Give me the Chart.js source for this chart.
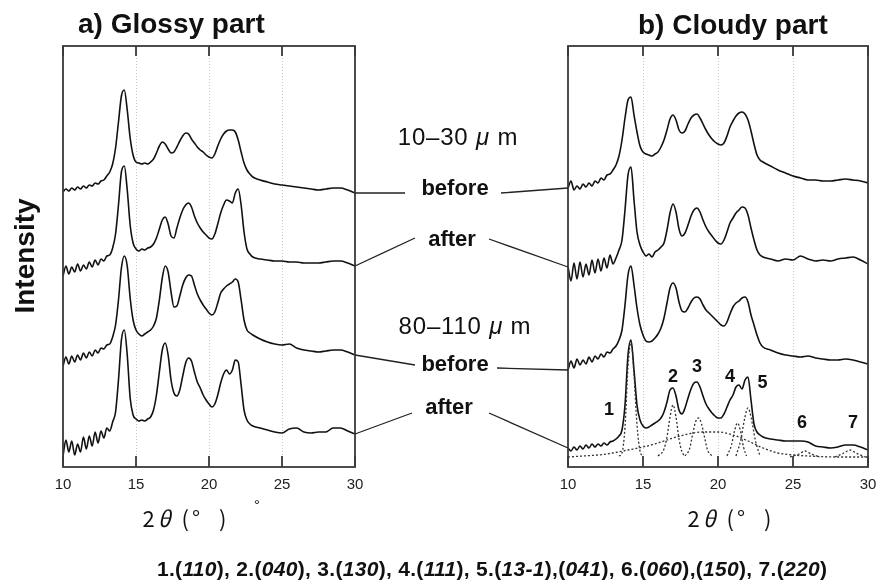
<!DOCTYPE html>
<html lang="en">
<head>
<meta charset="UTF-8">
<title>XRD glossy / cloudy</title>
<style>
    body {
        margin: 0;
        background: #fff;
        overflow: hidden;
    }
    #fig {
        position: relative;
        width: 876px;
        height: 586px;
        overflow: hidden;
        font-family: 'Liberation Sans', Arial, sans-serif;
        color: #111;
    }
    #fig canvas, #fig svg {
        position: absolute;
        top: 0;
    }
    .t {
        position: absolute;
        white-space: nowrap;
        line-height: 1;
    }
    .title { font-size: 28px; font-weight: bold; }
    .tag { font-size: 22px; font-weight: bold; transform: translateX(-50%); }
    .size { font-size: 24px; transform: translateX(-50%); letter-spacing: 0.8px; }
    .axt { font-size: 22px; font-family: 'Noto Sans CJK JP', 'DejaVu Sans', sans-serif; transform: translateX(-50%); letter-spacing: 3px; }
    .num { font-size: 18px; font-weight: bold; transform: translateX(-50%); }
</style>
</head>
<body>
<div id="fig">
    <canvas id="glossy" width="440" height="500" style="left:0"></canvas>
    <canvas id="cloudy" width="456" height="500" style="left:440px"></canvas>
    <svg id="leaders" width="876" height="586" style="left:0"></svg>

    <div class="t title" style="left:78px; top:10px">a) Glossy part</div>
    <div class="t title" style="left:638px; top:11px">b) Cloudy part</div>
    <div class="t title" style="left:25px; top:256px; transform:translate(-50%,-50%) rotate(-90deg)">Intensity</div>

    <div class="t size" style="left:458px; top:125px">10–30 <i>μ</i> m</div>
    <div class="t tag" style="left:455px; top:177px">before</div>
    <div class="t tag" style="left:452px; top:228px">after</div>
    <div class="t size" style="left:465px; top:314px">80–110 <i>μ</i> m</div>
    <div class="t tag" style="left:455px; top:353px">before</div>
    <div class="t tag" style="left:449px; top:396px">after</div>

    <div class="t axt" style="left:186px; top:506px">2<i>θ</i> (°&nbsp;&nbsp;)</div>
    <div class="t" style="left:254px; top:497px; font-size:15px">°</div>
    <div class="t axt" style="left:731px; top:506px">2<i>θ</i> (°&nbsp;&nbsp;)</div>

    <div class="t" style="left:157px; top:558px; font-size:21px; font-weight:bold; letter-spacing:0.3px">1.(<i>110</i>), 2.(<i>040</i>), 3.(<i>130</i>), 4.(<i>111</i>), 5.(<i>13-1</i>),(<i>041</i>), 6.(<i>060</i>),(<i>150</i>), 7.(<i>220</i>)</div>
</div>

<script src="https://cdn.jsdelivr.net/npm/chart.js"></script>
<script>
// 2-theta positions (deg) shared by all measured patterns
const twoTheta = [10.0,10.2,10.4,10.6,10.8,11.0,11.2,11.4,11.6,11.8,12.0,12.2,12.4,12.6,12.8,13.0,13.2,13.4,
    13.6,13.8,14.0,14.2,14.4,14.6,14.8,15.0,15.2,15.4,15.6,15.8,16.0,16.2,16.4,16.6,16.8,17.0,17.2,17.4,17.6,17.8,
    18.0,18.2,18.4,18.6,18.8,19.0,19.2,19.4,19.6,19.8,20.0,20.2,20.4,20.6,20.8,21.0,21.2,21.4,21.6,21.8,
    22.0,22.2,22.4,22.6,22.8,23.0,23.5,24.0,24.5,25.0,25.5,26.0,26.5,27.0,27.5,28.0,28.5,29.0,29.5,30.0];

// intensities (arb. units, already offset for stacking)
// a) glossy part
const glossyBefore10 = [275,278,276,279,277,280,278,281,279,282, 281,284,283,286,287,291,295,303,319,345,
    371,377,357,329,312,305,304,303,304,303, 305,308,314,321,325,323,318,314,315,320,
    326,331,334,333,328,324,320,317,315,312, 310,309,313,321,328,333,336,337,337,335,
    327,315,304,297,293,290,287,285,283,282, 281,280,279,278,277,278,279,279,277,274];
const glossyAfter10 = [191,201,193,200,195,203,196,202,198,205, 200,207,202,208,206,211,212,219,233,262,
    295,301,277,242,224,218,216,218,217,219, 220,223,229,238,247,250,243,231,229,239,
    249,257,262,264,260,251,244,239,235,232, 229,228,233,243,254,262,267,266,264,274,
    278,262,235,218,213,210,208,207,206,206, 205,205,204,204,204,205,206,206,204,201];
const glossyBefore80 = [101,110,103,111,105,112,107,114,109,115, 111,117,114,119,118,122,123,130,142,167,
    199,211,201,169,147,137,133,131,133,135, 137,141,149,167,189,201,195,175,160,161,
    171,182,189,192,191,182,173,167,162,158, 154,152,155,164,174,178,181,183,185,188,
    185,167,147,137,134,132,128,125,123,122, 123,119,117,116,115,116,117,117,115,112];
const glossyAfter80 = [11,27,15,26,12,23,15,30,18,31, 21,35,24,36,29,39,36,45,55,87,
    127,137,112,69,52,48,46,47,46,48, 50,57,72,95,117,124,112,87,74,71,
    77,91,104,109,106,95,85,79,72,67, 63,60,63,72,84,93,97,93,97,107,
    105,82,57,47,43,41,39,37,35,34, 38,39,35,34,35,35,39,39,36,33];

// b) cloudy part
const cloudyBefore10 = [279,286,277,281,278,283,280,284,281,286, 284,289,287,292,293,297,302,311,327,349,
    367,370,352,335,321,315,313,312,311,313, 315,320,327,337,348,352,347,337,334,336,
    343,349,352,353,349,343,337,332,328,325, 323,322,324,331,340,346,351,354,355,353,
    347,336,323,312,307,305,301,297,294,291, 289,287,287,286,286,287,288,287,286,284];
const cloudyAfter10 = [200,186,204,188,205,190,203,192,207,194, 208,196,209,199,212,203,209,217,227,257,
    292,300,267,235,222,215,211,213,210,215, 217,220,224,237,254,263,255,238,231,234,
    242,251,257,259,255,247,240,235,231,227, 224,223,227,235,244,249,254,257,260,259,
    252,239,227,217,212,210,208,206,208,207, 211,208,206,207,206,208,209,210,207,203];
const cloudyBefore80 = [97,106,99,108,102,107,103,110,105,111, 108,113,110,115,114,118,121,127,137,162,
    192,201,182,159,142,132,126,125,126,129, 133,139,149,164,179,184,179,165,156,155,
    159,165,169,170,168,162,157,154,151,148, 145,142,141,145,153,160,164,166,169,170,
    165,152,142,132,124,120,117,114,112,111, 110,111,109,108,107,107,108,107,105,103];
const cloudyAfter80 = [19,16,20,17,21,18,22,19,23,20, 23,21,24,22,25,26,28,31,37,62,
    112,127,97,62,47,41,39,40,42,44, 46,49,55,65,77,79,71,57,53,59,
    69,78,84,85,80,71,63,58,54,51, 49,49,53,60,67,72,80,82,78,87,
    90,67,43,35,32,30,28,27,26,26, 26,25,21,20,19,20,22,22,20,17];

// fitted components of the bottom cloudy pattern, [2theta, intensity]
const fit1 = [[13.4,11],[13.6,14],[13.8,40],[14.0,100],[14.2,125],[14.4,92],[14.6,42],[14.8,16],[15.0,11]];
const fit2 = [[16.0,11],[16.4,18],[16.6,30],[16.8,50],[17.0,62],[17.2,50],[17.4,28],[17.6,15],[17.8,11]];
const fit3 = [[17.8,11],[18.1,18],[18.3,32],[18.5,45],[18.7,49],[18.9,43],[19.1,30],[19.3,17],[19.6,11]];
const fit4 = [[20.6,11],[20.9,22],[21.1,36],[21.3,44],[21.5,36],[21.7,20],[21.9,11]];
const fit5 = [[21.2,11],[21.5,26],[21.8,50],[22.0,59],[22.2,50],[22.5,26],[22.8,11]];
const fit6 = [[24.8,10],[25.4,13],[25.8,16],[26.2,13],[26.8,10]];
const fit7 = [[27.8,10],[28.4,14],[28.8,17],[29.2,14],[29.8,10]];
const amorphous = [[10,10],[11,11],[12,12],[13,14],[14,17],[15,20],[16,24],[17,29],[18,33],[19,35],[20,35],
    [21,32],[22,26],[23,19],[24,14],[25,12],[26,11],[28,10],[30,10]];

// peak number labels: text, 2theta, height of label baseline
const peakNames = ['1','2','3','4','5','6','7'];
const peakLabelX = [12.73, 17.0, 18.6, 20.8, 22.97, 25.6, 29.0];
const peakLabelY = [52, 85, 95, 85, 79, 39, 39];

const X_TICKS = [10, 15, 20, 25, 30];

function solid(values) {
    return {
        data: twoTheta.map((x, i) => ({ x: x, y: values[i] })),
        borderColor: '#111',
        borderWidth: 1.6,
        pointRadius: 0,
        cubicInterpolationMode: 'monotone'
    };
}

function dotted(pairs) {
    return {
        data: pairs.map(p => ({ x: p[0], y: p[1] })),
        borderColor: '#333',
        borderWidth: 1.3,
        borderDash: [2, 2],
        pointRadius: 0,
        cubicInterpolationMode: 'monotone'
    };
}

// box, inward ticks and dotted grid
const framePlugin = {
    id: 'frame',
    beforeDatasetsDraw(chart) {
        const { ctx, chartArea: a, scales: { x } } = chart;
        ctx.save();
        ctx.strokeStyle = '#c8c8c8';
        ctx.lineWidth = 1;
        ctx.setLineDash([1, 2]);
        X_TICKS.slice(1, -1).forEach(v => {
            const px = Math.round(x.getPixelForValue(v)) + 0.5;
            ctx.beginPath();
            ctx.moveTo(px, a.top);
            ctx.lineTo(px, a.bottom);
            ctx.stroke();
        });
        ctx.restore();
    },
    afterDatasetsDraw(chart) {
        const { ctx, chartArea: a, scales: { x } } = chart;
        ctx.save();
        ctx.strokeStyle = '#3a3a3a';
        ctx.lineWidth = 1.8;
        ctx.strokeRect(a.left, a.top, a.right - a.left, a.bottom - a.top);
        X_TICKS.forEach(v => {
            const px = x.getPixelForValue(v);
            ctx.beginPath();
            ctx.moveTo(px, a.top);
            ctx.lineTo(px, a.top + 10);
            ctx.moveTo(px, a.bottom);
            ctx.lineTo(px, a.bottom - 11);
            ctx.stroke();
        });
        ctx.restore();
    }
};

function options(padLeft, padRight) {
    return {
        responsive: false,
        animation: false,
        devicePixelRatio: 1,
        layout: { padding: { left: padLeft, right: padRight, top: 46, bottom: 0 } },
        plugins: { legend: { display: false }, tooltip: { enabled: false } },
        scales: {
            x: {
                type: 'linear',
                min: 10,
                max: 30,
                afterBuildTicks: s => { s.ticks = X_TICKS.map(v => ({ value: v })); },
                afterFit: s => { s.height = 33; },
                ticks: {
                    autoSkip: false,
                    maxRotation: 0,
                    padding: 9,
                    color: '#222',
                    font: { family: "'Liberation Sans', Arial, sans-serif", size: 15 }
                },
                grid: { display: false, drawTicks: false },
                border: { display: false }
            },
            y: { display: false, min: 0, max: 421 }
        }
    };
}

const glossyChart = new Chart(document.getElementById('glossy'), {
    type: 'line',
    data: { datasets: [glossyBefore10, glossyAfter10, glossyBefore80, glossyAfter80].map(solid) },
    options: options(63, 85),
    plugins: [framePlugin]
});

const cloudyChart = new Chart(document.getElementById('cloudy'), {
    type: 'line',
    data: {
        datasets: [amorphous, fit1, fit2, fit3, fit4, fit5, fit6, fit7].map(dotted)
            .concat([cloudyBefore10, cloudyAfter10, cloudyBefore80, cloudyAfter80].map(solid))
    },
    options: options(128, 28),
    plugins: [framePlugin]
});

// leader lines from the labels to the pattern ends
const CLOUDY_LEFT = 440;
const leaders = [
    { a: glossyBefore10, b: cloudyBefore10, la: [405, 193], lb: [501, 193] },
    { a: glossyAfter10,  b: cloudyAfter10,  la: [415, 238], lb: [489, 239] },
    { a: glossyBefore80, b: cloudyBefore80, la: [415, 365], lb: [497, 368] },
    { a: glossyAfter80,  b: cloudyAfter80,  la: [412, 413], lb: [489, 413] }
];
const svg = document.getElementById('leaders');
function line(x1, y1, x2, y2) {
    const l = document.createElementNS('http://www.w3.org/2000/svg', 'line');
    l.setAttribute('x1', x1); l.setAttribute('y1', y1);
    l.setAttribute('x2', x2); l.setAttribute('y2', y2);
    l.setAttribute('stroke', '#222');
    l.setAttribute('stroke-width', '1.3');
    svg.appendChild(l);
}
leaders.forEach(d => {
    const ax = glossyChart.scales.x.getPixelForValue(30);
    const ay = glossyChart.scales.y.getPixelForValue(d.a[d.a.length - 1]);
    const bx = CLOUDY_LEFT + cloudyChart.scales.x.getPixelForValue(10);
    const by = cloudyChart.scales.y.getPixelForValue(d.b[0]);
    line(ax, ay, d.la[0], d.la[1]);
    line(d.lb[0], d.lb[1], bx, by);
});

// peak numbers on the cloudy panel
const fig = document.getElementById('fig');
peakNames.forEach((n, i) => {
    const el = document.createElement('div');
    el.className = 't num';
    el.textContent = n;
    const px = CLOUDY_LEFT + cloudyChart.scales.x.getPixelForValue(peakLabelX[i]);
    const base = cloudyChart.scales.y.getPixelForValue(peakLabelY[i]);
    el.style.left = px + 'px';
    el.style.top = (base - 0.8465 * 18) + 'px';
    fig.appendChild(el);
});
</script>
</body>
</html>
